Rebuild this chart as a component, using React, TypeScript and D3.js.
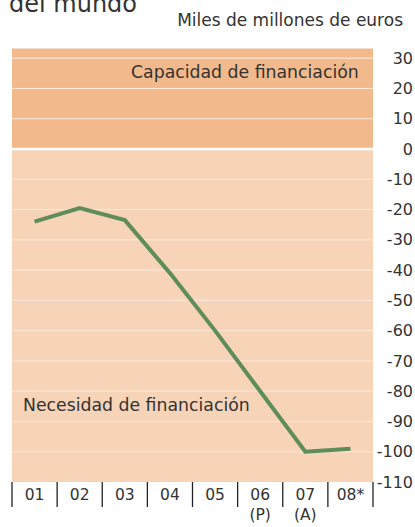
import React, { useEffect, useRef } from "react";
import * as d3 from "d3";

const years = ["01", "02", "03", "04", "05", "06", "07", "08*"];
const subLabels = ["", "", "", "", "", "(P)", "(A)", ""];
const values = [-24, -19.5, -23.5, -41, -60, -80, -100, -99];
const yTicks = [30, 20, 10, 0, -10, -20, -30, -40, -50, -60, -70, -80, -90, -100, -110];

const W = 415;
const H = 527;

const App = () => {
  const ref = useRef<SVGSVGElement>(null);

  useEffect(() => {
    const svg = d3.select(ref.current);
    svg.selectAll("*").remove();

    const left = 12;
    const right = 373;
    const x = d3.scaleBand().domain(years).range([left, right]);
    const y = d3.scaleLinear().domain([-110, 0]).range([482, 149]);
    const font = "'DejaVu Sans', sans-serif";

    // title (cropped at top)
    svg.append("text").attr("x", 9).attr("y", 12).attr("font-family", font)
      .attr("font-size", 24).attr("fill", "#333").text("del mundo");
    svg.append("text").attr("x", 403).attr("y", 26).attr("text-anchor", "end")
      .attr("font-family", font).attr("font-size", 17).attr("fill", "#333")
      .text("Miles de millones de euros");

    // background bands
    const top = y(33.2);
    svg.append("rect").attr("x", left).attr("y", top).attr("width", right - left)
      .attr("height", y(0) - top).attr("fill", "#f2b98c");
    svg.append("rect").attr("x", left).attr("y", y(0)).attr("width", right - left)
      .attr("height", y(-110) - y(0)).attr("fill", "#f7d3b8");

    // grid lines
    svg.append("g").selectAll("line").data(yTicks.filter((d) => d !== 0 && d !== -110)).join("line")
      .attr("x1", left).attr("x2", right)
      .attr("y1", (d) => y(d)).attr("y2", (d) => y(d))
      .attr("stroke", "#fcebdd").attr("stroke-width", 1);
    svg.append("line").attr("x1", left).attr("x2", right).attr("y1", y(0)).attr("y2", y(0))
      .attr("stroke", "#ffffff").attr("stroke-width", 2.5);

    // y axis labels on the right
    svg.append("g").selectAll("text").data(yTicks).join("text")
      .attr("x", 413).attr("y", (d) => y(d)).attr("dy", "0.35em")
      .attr("text-anchor", "end").attr("font-family", font).attr("font-size", 16)
      .attr("fill", "#333").text((d) => d);

    // band labels
    svg.append("text").attr("x", 131).attr("y", y(25.5)).attr("dy", "0.35em")
      .attr("font-family", font).attr("font-size", 17.3)
      .attr("fill", "#333").text("Capacidad de financiación");
    svg.append("text").attr("x", 23).attr("y", y(-84.5)).attr("dy", "0.35em")
      .attr("font-family", font).attr("font-size", 17.3)
      .attr("fill", "#333").text("Necesidad de financiación");

    // line
    const line = d3.line<number>()
      .x((d, i) => (x(years[i]) as number) + x.bandwidth() / 2)
      .y((d) => y(d));
    svg.append("path").datum(values).attr("d", line).attr("fill", "none")
      .attr("stroke", "#5e8d5a").attr("stroke-width", 4).attr("stroke-linejoin", "miter");

    // x axis separators
    const seps = years.map((d) => x(d) as number).concat([right]);
    svg.append("g").selectAll("line").data(seps).join("line")
      .attr("x1", (d) => d).attr("x2", (d) => d).attr("y1", 482).attr("y2", 507)
      .attr("stroke", "#222").attr("stroke-width", 1.3);

    svg.append("g").selectAll("text").data(years).join("text")
      .attr("x", (d) => (x(d) as number) + x.bandwidth() / 2).attr("y", 495).attr("dy", "0.35em")
      .attr("text-anchor", "middle").attr("font-family", font).attr("font-size", 15.5)
      .attr("fill", "#333").text((d) => d);
    svg.append("g").selectAll("text").data(years).join("text")
      .attr("x", (d) => (x(d) as number) + x.bandwidth() / 2).attr("y", 515).attr("dy", "0.35em")
      .attr("text-anchor", "middle").attr("font-family", font).attr("font-size", 15.5)
      .attr("fill", "#333").text((d, i) => subLabels[i]);
  }, []);

  return (
    <svg ref={ref} width={W} height={H}
      style={{ position: "absolute", left: 0, top: 0, display: "block", background: "#fff" }} />
  );
};

export default App;
